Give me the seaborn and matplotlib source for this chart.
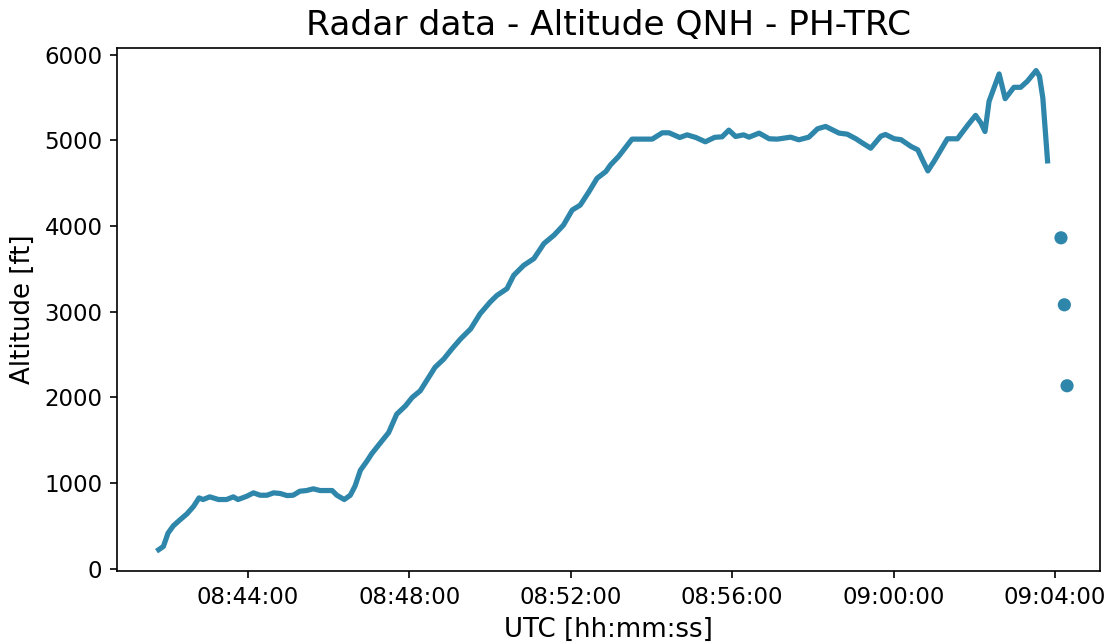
import numpy as np
import pandas as pd
import matplotlib
matplotlib.use("Agg")
import matplotlib.pyplot as plt
import matplotlib.dates as mdates
import seaborn as sns

# --- data ---
track_times = [
    "08:41:47", "08:41:54", "08:42:01", "08:42:09", "08:42:19", "08:42:29", "08:42:39",
    "08:42:47", "08:42:53", "08:43:03", "08:43:16", "08:43:28", "08:43:38", "08:43:45",
    "08:43:58", "08:44:08", "08:44:18", "08:44:28", "08:44:38", "08:44:48", "08:44:58",
    "08:45:07", "08:45:17", "08:45:27", "08:45:37", "08:45:47", "08:46:05", "08:46:12",
    "08:46:23", "08:46:32", "08:46:39", "08:46:47", "08:46:57", "08:47:04", "08:47:17",
    "08:47:29", "08:47:41", "08:47:54", "08:48:04", "08:48:16", "08:48:38", "08:48:51",
    "08:49:03", "08:49:16", "08:49:31", "08:49:45", "08:50:00", "08:50:10", "08:50:25",
    "08:50:35", "08:50:50", "08:51:05", "08:51:20", "08:51:35", "08:51:49", "08:52:02",
    "08:52:14", "08:52:27", "08:52:39", "08:52:52", "08:52:59", "08:53:11", "08:53:31",
    "08:54:01", "08:54:16", "08:54:26", "08:54:42", "08:54:53", "08:55:06", "08:55:20",
    "08:55:34", "08:55:45", "08:55:55", "08:56:05", "08:56:17", "08:56:25", "08:56:40",
    "08:56:55", "08:57:07", "08:57:27", "08:57:39", "08:57:54", "08:58:07", "08:58:19",
    "08:58:39", "08:58:51", "08:59:04", "08:59:14", "08:59:26", "08:59:41", "08:59:48",
    "09:00:01", "09:00:11", "09:00:26", "09:00:36", "09:00:43", "09:00:51", "09:01:00",
    "09:01:20", "09:01:35", "09:01:50", "09:02:02", "09:02:10", "09:02:16", "09:02:22",
    "09:02:37", "09:02:46", "09:02:59", "09:03:09", "09:03:19", "09:03:32", "09:03:37",
    "09:03:42", "09:03:49",
]
track_alt = [
    223, 261, 418, 504, 574, 641, 730,
    828, 809, 840, 809, 809, 840, 809,
    847, 887, 859, 859, 887, 879, 855,
    859, 906, 914, 934, 914, 914, 859,
    809, 859, 965, 1150, 1260, 1345, 1473,
    1590, 1805, 1902, 2000, 2078, 2352, 2449,
    2566, 2684, 2801, 2977, 3114, 3191, 3270,
    3426, 3543, 3621, 3797, 3895, 4012, 4188,
    4246, 4403, 4559, 4637, 4715, 4813, 5016,
    5016, 5090, 5090, 5035, 5066, 5035, 4985,
    5037, 5043, 5121, 5047, 5066, 5039, 5086,
    5020, 5016, 5039, 5008, 5039, 5137, 5164,
    5086, 5074, 5020, 4969, 4910, 5050, 5070,
    5020, 5010, 4930, 4891, 4774, 4645, 4754,
    5020, 5020, 5176, 5293, 5203, 5105, 5457,
    5777, 5488, 5621, 5621, 5692, 5816, 5750,
    5496, 4762,
]
isolated_times = ["09:04:09", "09:04:14", "09:04:18"]
isolated_alt = [3864, 3082, 2137]

title = "Radar data - Altitude QNH - PH-TRC"
xlabel = "UTC [hh:mm:ss]"
ylabel = "Altitude [ft]"
color = "#2E86AB"

day = "2020-01-01 "
track = pd.DataFrame({
    "time": pd.to_datetime([day + t for t in track_times]),
    "alt": track_alt,
})
iso = pd.DataFrame({
    "time": pd.to_datetime([day + t for t in isolated_times]),
    "alt": isolated_alt,
})

fig, ax = plt.subplots(figsize=(1112 / 150, 644 / 150), dpi=150)
fig.subplots_adjust(left=0.1052, right=0.9892, top=0.9255, bottom=0.1134)

sns.lineplot(data=track, x="time", y="alt", ax=ax, color=color, linewidth=2.5,
             estimator=None, sort=True, solid_joinstyle="round")
sns.scatterplot(data=iso, x="time", y="alt", ax=ax, color=color, s=40,
                edgecolor="none")

ax.set_xlim(pd.Timestamp(day + "08:40:45"), pd.Timestamp(day + "09:05:07"))
ax.set_ylim(-25, 6080)
ax.xaxis.set_major_locator(mdates.MinuteLocator(byminute=range(0, 60, 4)))
ax.xaxis.set_major_formatter(mdates.DateFormatter("%H:%M:%S"))
ax.set_yticks([0, 1000, 2000, 3000, 4000, 5000, 6000])
ax.tick_params(labelsize=11)
ax.set_xlabel(xlabel, fontsize=12.5)
ax.set_ylabel(ylabel, fontsize=12.5)
ax.set_title(title, fontsize=16.5)

fig.savefig("out.png", dpi=150)
